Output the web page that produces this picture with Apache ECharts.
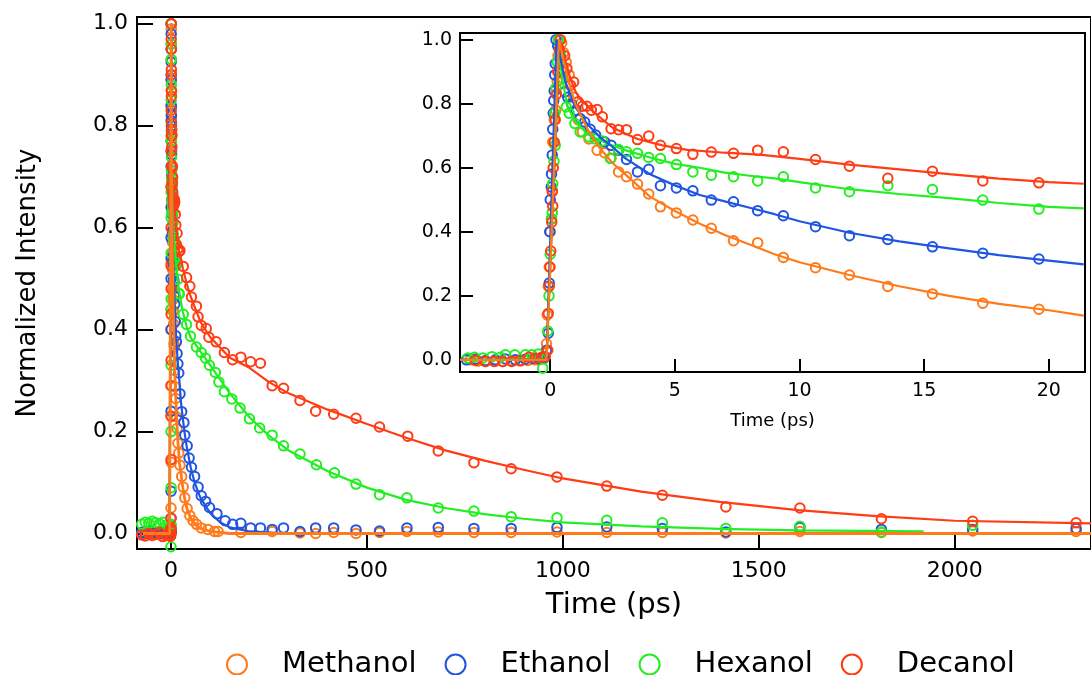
<!DOCTYPE html>
<html>
<head>
<meta charset="utf-8">
<script src="https://cdn.jsdelivr.net/npm/echarts@6/dist/echarts.min.js"></script>
<style>
  html, body { margin:0; padding:0; background:#fff; }
  #chart { width:1091px; height:675px; }
</style>
</head>
<body>
<div id="chart"></div>
<script>
// ---------------- DATA ----------------
const seriesNames = ['Methanol', 'Ethanol', 'Hexanol', 'Decanol'];
const seriesColors = ['#FF7A1A', '#1F55E0', '#22EE22', '#FF3C14'];

// Main-panel tick labels
const mainXTicks = [0, 500, 1000, 1500, 2000];
const mainYTicks = [0, 0.2, 0.4, 0.6, 0.8, 1.0];
// Inset tick labels
const insetXTicks = [0, 5, 10, 15, 20];
const insetYTicks = [0, 0.2, 0.4, 0.6, 0.8, 1.0];

// Pre-time-zero points of the main panel (ps)
const mainPreT = [-75, -66, -57, -48, -39, -30, -21, -12];
const methanolPre = [0.0, 0.002, -0.002, 0.0, 0.001, 0.0, -0.002, 0.0];
const ethanolPre  = [0.002, 0.0, 0.004, 0.001, 0.003, 0.0, 0.002, 0.004];
const hexanolPre  = [0.018, 0.022, 0.020, 0.024, 0.021, 0.019, 0.022, 0.016];
const decanolPre  = [-0.003, -0.005, 0.0, -0.004, -0.002, 0.002, -0.006, -0.003];

// Short-time (inset) measured points [t (ps), intensity]
const methanolShort = [[-3.2,0.0],[-2.9,-0.004],[-2.6,-0.005],[-2.2,-0.004],[-1.9,-0.005],[-1.5,-0.003],[-1.2,-0.004],[-0.9,-0.002],[-0.6,0.0],[-0.4,0.002],[-0.25,0.01],
  [-0.15,0.05],[-0.12,0.14],[-0.08,0.23],[-0.04,0.29],[0.0,0.4],[0.05,0.44],[0.08,0.53],[0.1,0.68],[0.16,0.75],[0.22,0.78],[0.28,0.87],[0.31,0.95],[0.35,1.0],[0.46,0.99],[0.53,0.96],[0.64,0.93],[0.76,0.89],[0.94,0.82],[1.12,0.75],[1.29,0.712],[1.55,0.69],[1.88,0.655],[2.18,0.647],[2.44,0.63],
  [2.74,0.587],[3.06,0.572],[3.50,0.549],[3.95,0.518],[4.42,0.478],[5.06,0.459],[5.72,0.437],[6.46,0.411],[7.35,0.372],[8.32,0.366],[9.35,0.32],[10.64,0.288],[12.0,0.265],[13.54,0.229],[15.33,0.206],[17.35,0.177],[19.6,0.158]];
const ethanolShort = [[-3.36,0.0],[-3.0,0.002],[-2.6,-0.002],[-2.2,0.0],[-1.8,0.003],[-1.4,0.0],[-1.0,0.002],[-0.7,0.004],[-0.45,0.003],[-0.25,0.005],
  [-0.15,0.03],[-0.08,0.083],[-0.04,0.24],[-0.02,0.4],[0.0,0.5],[0.04,0.54],[0.05,0.58],[0.08,0.64],[0.1,0.72],[0.12,0.77],[0.14,0.81],[0.16,0.84],[0.18,0.89],[0.2,0.925],[0.23,1.0],[0.3,0.98],[0.4,0.95],[0.5,0.9],[0.58,0.837],[0.7,0.82],[0.85,0.80],[1.03,0.78],[1.2,0.754],[1.38,0.743],[1.6,0.72],[1.82,0.702],[2.18,0.681],[2.44,0.67],[2.74,0.655],
  [3.06,0.626],[3.5,0.587],[3.95,0.595],[4.42,0.544],[5.06,0.537],[5.72,0.528],[6.46,0.499],[7.35,0.494],[8.32,0.466],[9.35,0.45],[10.64,0.416],[12.0,0.388],[13.54,0.376],[15.33,0.353],[17.35,0.333],[19.6,0.315]];
const hexanolShort = [[-3.3,0.006],[-3.04,0.008],[-2.7,0.006],[-2.34,0.01],[-2.0,0.008],[-1.8,0.016],[-1.42,0.016],[-1.0,0.016],[-0.74,0.016],[-0.48,0.018],[-0.3,-0.026],
  [-0.1,0.09],[-0.05,0.2],[0.0,0.33],[0.05,0.44],[0.08,0.46],[0.1,0.55],[0.15,0.62],[0.2,0.67],[0.18,0.77],[0.23,0.85],[0.28,0.93],[0.33,1.0],[0.4,0.96],[0.5,0.88],[0.64,0.79],[0.76,0.77],[0.99,0.738],[1.2,0.712],[1.56,0.696],[1.8,0.69],[2.09,0.684],[2.41,0.629],[2.74,0.657],
  [3.06,0.65],[3.5,0.645],[3.95,0.632],[4.42,0.629],[5.06,0.61],[5.72,0.587],[6.46,0.577],[7.35,0.572],[8.32,0.559],[9.35,0.572],[10.64,0.537],[12.0,0.525],[13.54,0.544],[15.33,0.532],[17.35,0.499],[19.6,0.471]];
const decanolShort = [[-3.0,-0.002],[-2.6,-0.005],[-2.25,-0.005],[-1.9,-0.005],[-1.55,-0.005],[-1.2,-0.002],[-0.85,0.008],[-0.6,0.005],[-0.35,0.008],[-0.2,0.01],
  [-0.1,0.03],[-0.08,0.145],[-0.04,0.23],[-0.01,0.29],[0.02,0.34],[0.06,0.43],[0.1,0.48],[0.08,0.525],[0.12,0.6],[0.16,0.68],[0.2,0.75],[0.25,0.83],[0.3,0.9],[0.36,0.97],[0.41,1.0],[0.58,0.95],[0.67,0.91],[0.81,0.858],[0.94,0.868],[1.12,0.806],[1.29,0.792],[1.47,0.792],[1.65,0.78],[1.88,0.782],[2.09,0.759],[2.44,0.722],[2.74,0.719],
  [3.06,0.719],[3.50,0.688],[3.95,0.699],[4.42,0.670],[5.06,0.660],[5.72,0.642],[6.46,0.649],[7.35,0.645],[8.32,0.655],[9.35,0.650],[10.64,0.626],[12.0,0.605],[13.54,0.567],[15.33,0.589],[17.35,0.559],[19.6,0.553]];

// Long-time (main panel) measured points [t (ps), intensity]
const methanolLong = [[22.7,0.134],[27,0.112],[31,0.091],[35,0.07],[41,0.049],[48,0.035],[56,0.025],[65,0.018],[77,0.011],[94,0.008],[111,0.004],[120,0.004],[178,0.002],[258,0.004],[329,0.001],[369,0.0],[415,0.002],[472,0.0],[532,0.002],[602,0.004],[682,0.003],[773,0.002],[868,0.002],[985,0.003],[1112,0.002],[1254,0.002],[1416,0.001],[1605,0.004],[1813,0.002],[2046,0.005],[2310,0.004]];
const ethanolLong = [[22.7,0.274],[27,0.239],[32.7,0.218],[35,0.193],[41,0.172],[46,0.148],[52,0.13],[60,0.112],[69,0.091],[77,0.074],[88,0.063],[98,0.051],[117,0.039],[138,0.025],[157,0.018],[178,0.02],[203,0.011],[228,0.011],[258,0.008],[287,0.011],[329,0.004],[369,0.011],[415,0.011],[472,0.007],[532,0.005],[602,0.011],[682,0.012],[773,0.01],[868,0.01],[985,0.012],[1112,0.013],[1254,0.01],[1416,0.003],[1605,0.012],[1813,0.008],[2046,0.008],[2310,0.01]];
const hexanolLong = [[21,0.47],[31,0.43],[39.5,0.41],[49.5,0.387],[64.6,0.366],[77,0.355],[88,0.344],[98,0.33],[113,0.316],[122,0.297],[136,0.278],[155,0.264],[176,0.246],[200,0.225],[226,0.207],[258,0.193],[287,0.172],[329,0.156],[371,0.135],[417,0.119],[472,0.097],[532,0.076],[602,0.07],[682,0.05],[773,0.044],[868,0.033],[985,0.031],[1112,0.026],[1254,0.021],[1416,0.01],[1605,0.014],[1813,0.003],[2046,0.016]];
const decanolLong = [[22.7,0.555],[31,0.524],[39.5,0.502],[47.8,0.485],[52,0.464],[64.6,0.446],[68.8,0.425],[77,0.408],[89.8,0.402],[96.5,0.385],[115,0.376],[136,0.355],[157,0.341],[178,0.346],[203,0.337],[228,0.334],[258,0.29],[287,0.285],[329,0.261],[369,0.24],[415,0.234],[472,0.226],[532,0.209],[604,0.191],[682,0.162],[773,0.139],[868,0.127],[985,0.111],[1112,0.093],[1254,0.075],[1416,0.052],[1605,0.05],[1813,0.029],[2046,0.024],[2310,0.021]];

// Fit curves, short time (inset) [t, intensity]
const methanolFitShort = [[-3.62,0],[-0.15,0],[0.35,1.0],[0.7,0.88],[1.0,0.8],[1.5,0.72],[2,0.66],[2.5,0.615],[3,0.58],[4,0.51],[5,0.465],[6,0.425],[7,0.39],[8,0.36],[9,0.33],[10,0.305],[12,0.265],[14,0.23],[16,0.2],[18,0.175],[20,0.155],[21.4,0.138]];
const ethanolFitShort = [[-3.62,0],[-0.15,0],[0.25,1.0],[0.6,0.87],[1.0,0.79],[1.5,0.735],[2,0.695],[2.5,0.665],[3,0.63],[4,0.58],[5,0.545],[6,0.515],[7,0.495],[8,0.475],[9,0.455],[10,0.433],[12,0.397],[14,0.37],[16,0.348],[18,0.327],[20,0.31],[21.4,0.298]];
const hexanolFitShort = [[-3.62,0],[-0.15,0],[0.33,0.97],[0.5,0.87],[0.7,0.79],[1.0,0.745],[1.5,0.705],[2,0.685],[3,0.655],[4,0.632],[5,0.612],[6,0.6],[7,0.585],[8,0.575],[9,0.567],[10,0.555],[12,0.533],[14,0.518],[16,0.505],[18,0.49],[20,0.478],[21.4,0.473]];
const decanolFitShort = [[-3.62,0],[-0.15,0],[0.38,1.0],[0.8,0.88],[1.0,0.84],[1.2,0.815],[1.8,0.77],[2.5,0.725],[3.5,0.69],[4.5,0.67],[5.5,0.656],[7,0.647],[8.5,0.64],[10,0.628],[12,0.61],[14,0.595],[16,0.58],[18,0.566],[20,0.555],[21.4,0.55]];

// Fit curves, long time (main panel) [t, intensity]
const methanolFitLong = [[-72,0],[25,0.12],[30,0.09],[35,0.068],[40,0.05],[50,0.03],[60,0.02],[75,0.01],[100,0.004],[150,0.0],[2350,0.0]];
const ethanolFitLong = [[-72,0],[25,0.26],[30,0.225],[35,0.195],[40,0.17],[50,0.13],[60,0.1],[75,0.07],[100,0.04],[125,0.022],[150,0.012],[200,0.004],[300,0.0],[2350,0.0]];
const hexanolFitLong = [[-72,0],[25,0.455],[30,0.435],[40,0.405],[50,0.385],[75,0.357],[100,0.33],[150,0.275],[200,0.228],[250,0.192],[300,0.163],[400,0.122],[500,0.09],[600,0.066],[700,0.05],[800,0.038],[900,0.029],[1000,0.022],[1200,0.014],[1400,0.009],[1600,0.006],[1921,0.004]];
const decanolFitLong = [[-72,0],[25,0.54],[30,0.52],[40,0.49],[50,0.465],[75,0.415],[100,0.385],[150,0.345],[200,0.325],[250,0.297],[300,0.275],[400,0.243],[500,0.215],[600,0.188],[700,0.163],[800,0.143],[900,0.125],[1000,0.108],[1200,0.082],[1400,0.062],[1600,0.046],[1800,0.034],[2000,0.025],[2350,0.02]];

// ---------------- BUILD ----------------
const FONT = 'DejaVu Sans';
const preVals = [methanolPre, ethanolPre, hexanolPre, decanolPre];
const shortPts = [methanolShort, ethanolShort, hexanolShort, decanolShort];
const longPts = [methanolLong, ethanolLong, hexanolLong, decanolLong];
const fitShort = [methanolFitShort, ethanolFitShort, hexanolFitShort, decanolFitShort];
const fitLong = [methanolFitLong, ethanolFitLong, hexanolFitLong, decanolFitLong];

const byT = (a, b) => a[0] - b[0];
const fmt1 = v => v.toFixed(1);

function scatter(name, color, data, idx) {
  return {
    name, type: 'scatter', xAxisIndex: idx, yAxisIndex: idx, data,
    symbol: 'circle', symbolSize: 9.5, z: 2,
    itemStyle: { color: 'rgba(255,255,255,0)', borderColor: color, borderWidth: 2, opacity: 1 },
    emphasis: { disabled: true }
  };
}
function fitLine(name, color, data, idx, width) {
  return {
    name, type: 'line', xAxisIndex: idx, yAxisIndex: idx, data,
    showSymbol: false, symbol: 'none', z: 3,
    lineStyle: { color, width }, itemStyle: { color },
    emphasis: { disabled: true }
  };
}

const series = [];
[0, 1, 2, 3].forEach(i => {
  const mainData = mainPreT.map((t, k) => [t, preVals[i][k]])
    .concat(shortPts[i], longPts[i]);
  series.push(scatter(seriesNames[i], seriesColors[i], mainData, 0));
  series.push(scatter(seriesNames[i], seriesColors[i], shortPts[i], 1));
});
[3, 2, 1, 0].forEach(i => {
  const mainFit = fitLong[i].concat(fitShort[i]).sort(byT);
  series.push(fitLine(seriesNames[i], seriesColors[i], mainFit, 0, i === 0 ? 2.8 : 2.2));
  series.push(fitLine(seriesNames[i], seriesColors[i], fitShort[i], 1, 2.2));
});

function valueAxis(opt) {
  return Object.assign({
    type: 'value',
    splitLine: { show: false },
    axisLine: { show: false, onZero: false },
    axisTick: { show: true, inside: true, length: opt.tickLen, lineStyle: { color: '#000', width: 2 }, customValues: opt.ticks },
    axisLabel: { show: true, customValues: opt.ticks, fontSize: opt.fs, color: '#000', fontFamily: FONT, margin: opt.margin, formatter: opt.formatter },
    nameTextStyle: { fontSize: opt.nameFs, color: '#000', fontFamily: FONT }
  }, opt.extra);
}

const option = {
  animation: false,
  backgroundColor: '#fff',
  textStyle: { fontFamily: FONT },
  grid: [
    { left: 137, top: 17, width: 963, height: 532, show: true, borderColor: '#000', borderWidth: 2, backgroundColor: 'transparent', containLabel: false },
    { left: 460, top: 33, width: 625, height: 339, show: true, borderColor: '#000', borderWidth: 2, backgroundColor: '#fff', containLabel: false }
  ],
  xAxis: [
    valueAxis({ ticks: mainXTicks, tickLen: 15, fs: 22, margin: 11, nameFs: 29, formatter: v => String(v),
      extra: { gridIndex: 0, min: -87, max: 2348, name: 'Time (ps)', nameLocation: 'middle', nameGap: 42 } }),
    valueAxis({ ticks: insetXTicks, tickLen: 13, fs: 19, margin: 10, nameFs: 18, formatter: v => String(v),
      extra: { gridIndex: 1, min: -3.62, max: 21.45, name: 'Time (ps)', nameLocation: 'middle', nameGap: 40 } })
  ],
  yAxis: [
    valueAxis({ ticks: mainYTicks, tickLen: 16, fs: 22, margin: 9, nameFs: 26, formatter: fmt1,
      extra: { gridIndex: 0, min: -0.0304, max: 1.0133, name: 'Normalized Intensity', nameLocation: 'middle', nameGap: 96 } }),
    valueAxis({ ticks: insetYTicks, tickLen: 13, fs: 19, margin: 8, nameFs: 18, formatter: fmt1,
      extra: { gridIndex: 1, min: -0.038, max: 1.021 } })
  ],
  legend: {
    left: 221, top: 645, itemWidth: 20, itemHeight: 20, itemGap: 28,
    selectedMode: false,
    textStyle: { fontSize: 29, color: '#000', fontFamily: FONT, padding: [0, 0, 0, 30] },
    data: seriesNames.map((n, i) => ({
      name: n, icon: 'circle',
      itemStyle: { color: '#fff', borderColor: seriesColors[i], borderWidth: 2 }
    }))
  },
  series
};

const chart = echarts.init(document.getElementById('chart'), null, { renderer: 'canvas' });
chart.setOption(option);
</script>
</body>
</html>
